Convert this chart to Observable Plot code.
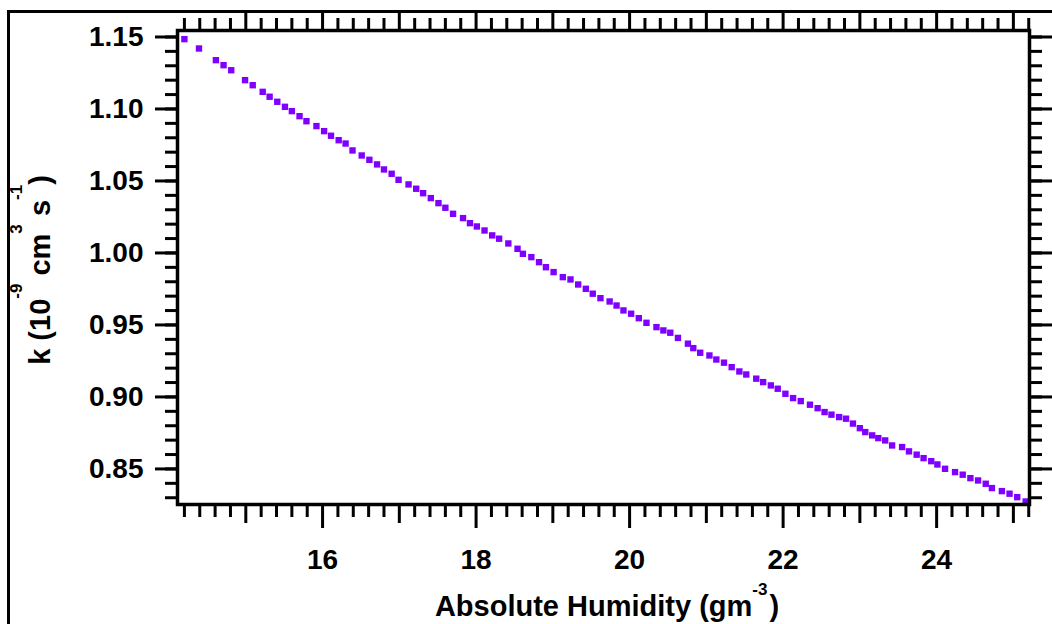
<!DOCTYPE html>
<html><head><meta charset="utf-8">
<script src="https://cdn.jsdelivr.net/npm/d3@7"></script>
<script src="https://cdn.jsdelivr.net/npm/@observablehq/plot@0.6"></script>
<style>
html,body{margin:0;padding:0;background:#fff;overflow:hidden;}
#chart{width:1052px;height:624px;overflow:hidden;}
</style></head><body><div id="chart"></div>
<script>
// Absolute humidity (g m^-3)
const humidity = [
  14.20,14.39,14.61,14.71,14.81,14.99,15.09,15.22,15.31,15.41,15.51,15.60,15.70,15.79,15.92,16.02,16.11,16.21,16.30,
  16.39,16.51,16.61,16.71,16.80,16.90,16.99,17.12,17.22,17.31,17.41,17.51,17.60,17.70,17.83,17.92,18.01,18.11,18.21,18.30,
  18.42,
  18.54,18.61,18.72,18.82,18.91,19.01,19.13,19.23,19.33,19.43,19.52,19.62,19.74,19.83,19.92,20.02,20.12,20.22,20.35,20.44,20.53,
  20.63,
  20.76,20.83,20.92,21.04,21.13,21.23,21.33,21.43,21.52,21.65,21.74,21.84,21.93,22.03,22.13,22.23,22.35,22.45,22.54,22.63,22.73,22.82,
  22.91,
  23.00,23.07,23.16,23.24,23.33,23.42,23.55,23.64,23.74,23.83,23.93,24.01,24.11,24.24,24.34,24.44,24.54,24.64,24.72,24.85,24.95,25.05,25.16
];
// k (10^-9 cm^3 s^-1)
const kValues = [
  1.1485,1.1420,1.1339,1.1304,1.1269,1.1200,1.1165,1.1119,1.1085,1.1050,1.1015,1.0985,1.0950,1.0915,1.0881,1.0846,1.0814,1.0783,1.0760,
  1.0712,1.0677,1.0647,1.0615,1.0580,1.0550,1.0508,1.0476,1.0446,1.0415,1.0381,1.0346,1.0314,1.0272,1.0242,1.0207,1.0184,1.0156,1.0122,1.0099,
  1.0066,
  1.0029,0.9994,0.9971,0.9936,0.9901,0.9867,0.9832,0.9816,0.9781,0.9751,0.9717,0.9686,0.9663,0.9635,0.9601,0.9578,0.9547,0.9515,0.9485,0.9462,0.9446,
  0.9410,
  0.9370,0.9339,0.9307,0.9288,0.9260,0.9238,0.9207,0.9177,0.9156,0.9127,0.9103,0.9080,0.9057,0.9022,0.8992,0.8971,0.8946,0.8922,0.8895,0.8877,0.8860,0.8849,
  0.8815,
  0.8783,0.8756,0.8733,0.8714,0.8698,0.8663,0.8652,0.8622,0.8599,0.8575,0.8554,0.8531,0.8501,0.8478,0.8460,0.8436,0.8420,0.8397,0.8367,0.8346,0.8328,0.8304,0.8274
];

const xTickLabels = [16, 18, 20, 22, 24];
const xOddTicks = [15, 17, 19, 21, 23, 25];
const xIntTicks = [15, 16, 17, 18, 19, 20, 21, 22, 23, 24, 25];
const xMinorTicks = d3.range(71, 127).map(i => i / 5).filter(v => !Number.isInteger(v));
const yTickLabels = [0.85, 0.90, 0.95, 1.00, 1.05, 1.10, 1.15];
const yMinorTicks = d3.range(83, 116).map(i => i / 100);

const data = humidity.map((h, i) => ({h, k: kValues[i]}));

const font = "'Liberation Sans', Arial, sans-serif";
const common = {strokeWidth: 3, label: null, fontSize: 28, fontWeight: "bold"};
const blank = () => "";

const plot = Plot.plot({
  width: 1052, height: 624,
  marginLeft: 177, marginRight: 23, marginTop: 30, marginBottom: 120,
  x: {domain: [14.11, 25.21]},
  y: {domain: [0.8253, 1.1545]},
  style: {fontFamily: font, fontWeight: "bold", fontSize: "28px", background: "white", color: "black", overflow: "visible"},
  marks: [
    Plot.dot(data, {x: "h", y: "k", symbol: "square", r: 3.6, fill: "#7f00ff", stroke: null}),
    Plot.frame({strokeWidth: 3.5}),
    Plot.axisX({anchor: "bottom", ticks: xMinorTicks, tickSize: 13, tickFormat: blank, ...common}),
    Plot.axisX({anchor: "bottom", ticks: xOddTicks, tickSize: 19, tickFormat: blank, ...common}),
    Plot.axisX({anchor: "bottom", ticks: xTickLabels, tickSize: 24, tickPadding: 21, tickFormat: d => String(d), ...common}),
    Plot.axisX({anchor: "top", ticks: xMinorTicks, tickSize: 13, tickFormat: blank, ...common}),
    Plot.axisX({anchor: "top", ticks: xIntTicks, tickSize: 19, tickFormat: blank, ...common}),
    Plot.axisY({anchor: "left", ticks: yMinorTicks, tickSize: 12, tickFormat: blank, ...common}),
    Plot.axisY({anchor: "left", ticks: yTickLabels, tickSize: 22, tickPadding: 12, tickFormat: d => d.toFixed(2), ...common}),
    Plot.axisY({anchor: "right", ticks: yMinorTicks, tickSize: 12, tickFormat: blank, ...common}),
    Plot.axisY({anchor: "right", ticks: yTickLabels, tickSize: 22, tickFormat: blank, ...common})
  ]
});

document.getElementById("chart").appendChild(plot);

const svg = d3.select(plot);
// outer border (partial frame of the original figure)
svg.append("path").attr("d", "M8.5,700V11.5H1100").attr("fill", "none").attr("stroke", "black").attr("stroke-width", 3);

// x-axis title
const xt = svg.append("text").attr("x", 607).attr("y", 616).attr("text-anchor", "middle")
  .attr("font-size", 29).attr("font-weight", "bold").attr("fill", "black");
xt.append("tspan").text("Absolute Humidity (gm");
xt.append("tspan").attr("dy", -21).attr("font-size", 17).text("-3");
xt.append("tspan").attr("dy", 21).attr("dx", 2).text(")");

// y-axis title
const yt = svg.append("text").attr("transform", "translate(50,270) rotate(-90)").attr("text-anchor", "middle")
  .attr("font-size", 29).attr("font-weight", "bold").attr("fill", "black");
yt.append("tspan").text("k (10");
yt.append("tspan").attr("dy", -28).attr("font-size", 17).text("-9");
yt.append("tspan").attr("dy", 28).text(" cm");
yt.append("tspan").attr("dy", -28).attr("font-size", 17).text("3");
yt.append("tspan").attr("dy", 28).text(" s");
yt.append("tspan").attr("dy", -28).attr("font-size", 17).text("-1");
yt.append("tspan").attr("dy", 28).text(")");
</script>
</body></html>
